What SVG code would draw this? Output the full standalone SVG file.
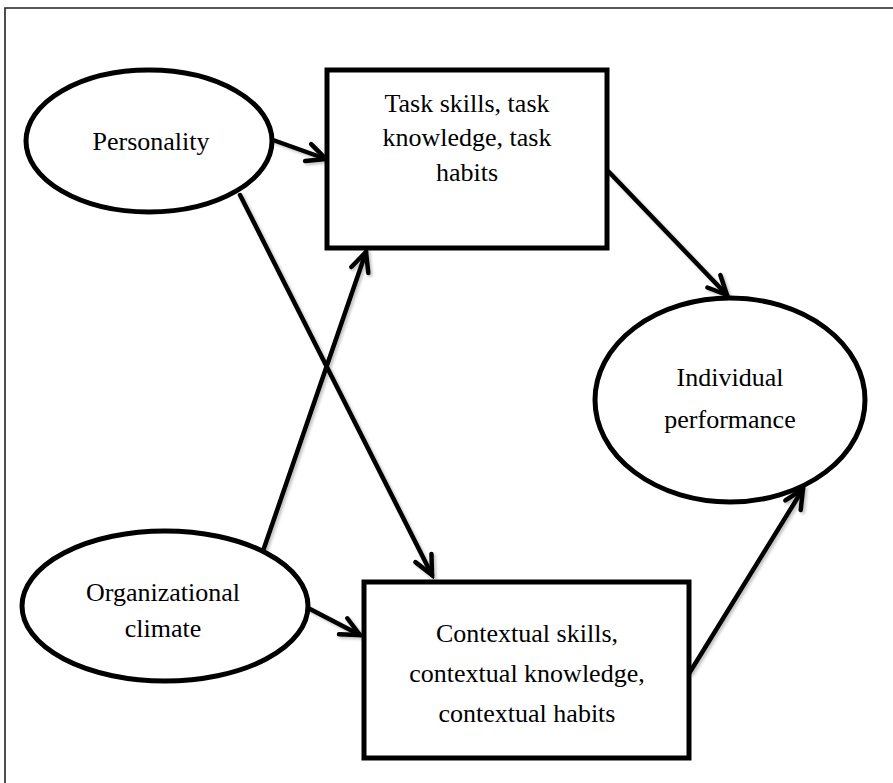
<svg xmlns="http://www.w3.org/2000/svg" width="893" height="783" viewBox="0 0 893 783">
<style>
.node{fill:#fff;stroke:#000;stroke-width:5}
.t{font-family:"Liberation Serif","Times New Roman",serif;font-size:26px;fill:#000;text-anchor:middle}
.c{stroke:#000;stroke-width:4.5;fill:none;stroke-linecap:round;marker-end:url(#ah)}
</style>
<defs>
<marker id="ah" markerUnits="userSpaceOnUse" viewBox="-24 -14 28 28" refX="0" refY="0" markerWidth="28" markerHeight="28" orient="auto">
<path d="M-19,-9 L0,0 L-19,9" fill="none" stroke="#000" stroke-width="4.5" stroke-linecap="round" stroke-linejoin="miter"/>
</marker>
<filter id="sh" x="-10%" y="-10%" width="130%" height="130%">
<feGaussianBlur in="SourceAlpha" stdDeviation="1.5"/>
<feOffset dx="2" dy="2" result="b"/>
<feComponentTransfer><feFuncA type="linear" slope="0.25"/></feComponentTransfer>
<feMerge><feMergeNode/><feMergeNode in="SourceGraphic"/></feMerge>
</filter>
</defs>
<rect width="893" height="783" fill="#fff"/>
<path d="M5,790 L5,8 L900,8" fill="none" stroke="#222" stroke-width="1.6"/>
<g id="connectors" filter="url(#sh)">
<line class="c" x1="273" y1="140" x2="326" y2="159"/>
<line class="c" x1="240" y1="195" x2="432" y2="575"/>
<line class="c" x1="263" y1="551" x2="366" y2="252"/>
<line class="c" x1="308" y1="608" x2="360" y2="635"/>
<line class="c" x1="609" y1="172" x2="727" y2="295"/>
<line class="c" x1="690" y1="672" x2="803" y2="489"/>
</g>
<g id="personality">
<ellipse class="node" cx="149" cy="141" rx="123" ry="71"/>
<text class="t" x="151" y="150">Personality</text>
</g>
<g id="task">
<rect class="node" x="327" y="70" width="280" height="178"/>
<text class="t" x="467" y="112">Task skills, task</text>
<text class="t" x="467" y="146">knowledge, task</text>
<text class="t" x="467" y="181">habits</text>
</g>
<g id="individual">
<ellipse class="node" cx="730" cy="400" rx="135" ry="102"/>
<text class="t" x="730" y="386">Individual</text>
<text class="t" x="730" y="428">performance</text>
</g>
<g id="organizational">
<ellipse class="node" cx="165" cy="606" rx="143" ry="75"/>
<text class="t" x="163" y="601">Organizational</text>
<text class="t" x="163" y="637">climate</text>
</g>
<g id="contextual">
<rect class="node" x="364" y="582" width="325" height="176"/>
<text class="t" x="527" y="642">Contextual skills,</text>
<text class="t" x="527" y="682">contextual knowledge,</text>
<text class="t" x="527" y="722">contextual habits</text>
</g>
</svg>
